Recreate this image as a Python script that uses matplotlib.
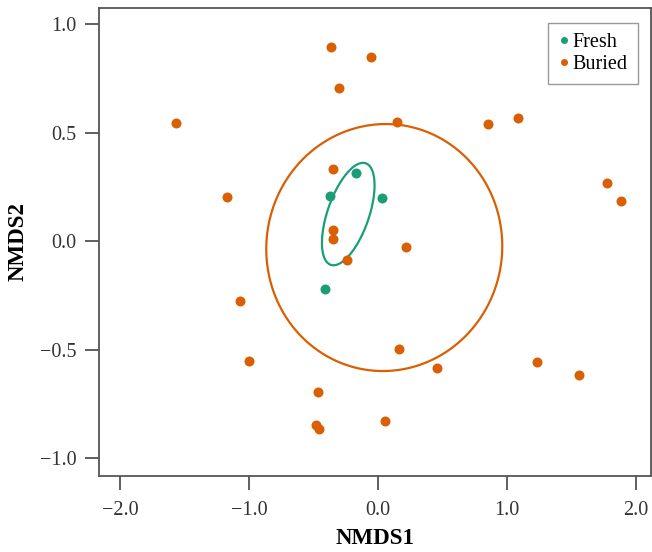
import numpy as np
import matplotlib
matplotlib.use('Agg')
import matplotlib.pyplot as plt

# NMDS scores
fresh_x = [-0.171, -0.372, 0.031, -0.411]
fresh_y = [0.313, 0.207, 0.198, -0.221]

buried_x = [-1.566, -1.171, -0.364, -0.054, -0.302, 0.147, 0.853, 1.085,
            -0.349, -0.349, -0.349, -0.240, 0.217, 1.775, 1.884, -1.070,
            -1.000, -0.465, -0.481, -0.457, 0.163, 0.457, 1.233, 1.558, 0.054]
buried_y = [0.544, 0.203, 0.894, 0.848, 0.705, 0.548, 0.539, 0.567,
            0.332, 0.051, 0.009, -0.088, -0.028, 0.267, 0.184, -0.276,
            -0.553, -0.696, -0.848, -0.866, -0.498, -0.585, -0.558, -0.618, -0.829]

xticks = [-2.0, -1.0, 0.0, 1.0, 2.0]
xtick_labels = ['\u22122.0', '\u22121.0', '0.0', '1.0', '2.0']
yticks = [-1.0, -0.5, 0.0, 0.5, 1.0]
ytick_labels = ['\u22121.0', '\u22120.5', '0.0', '0.5', '1.0']

col_fresh = '#1B9E77'
col_buried = '#D95F02'

plt.rcParams['font.family'] = ['Liberation Serif', 'DejaVu Serif']


def sd_ellipse(x, y, n=361):
    # standard deviation ellipse, like vegan::ordiellipse(kind='sd')
    x = np.asarray(x)
    y = np.asarray(y)
    cov = np.cov(x, y)
    L = np.linalg.cholesky(cov)
    t = np.linspace(0, 2 * np.pi, n)
    circ = np.vstack([np.cos(t), np.sin(t)])
    pts = L @ circ
    return x.mean() + pts[0], y.mean() + pts[1]


fig = plt.figure(figsize=(6.52, 5.52), dpi=100)
ax = fig.add_axes([0.1518, 0.1377, 0.8467, 0.8478])

ax.plot(buried_x, buried_y, 'o', color=col_buried, ms=7.2, mec='none',
        label='Buried', zorder=3)
ax.plot(fresh_x, fresh_y, 'o', color=col_fresh, ms=7.2, mec='none',
        label='Fresh', zorder=3)

ex, ey = sd_ellipse(buried_x, buried_y)
ax.fill(ex, ey, fill=False, edgecolor=col_buried, lw=1.6)
ex, ey = sd_ellipse(fresh_x, fresh_y)
ax.fill(ex, ey, fill=False, edgecolor=col_fresh, lw=1.6)

ax.set_xlim(-2.163, 2.116)
ax.set_ylim(-1.083, 1.074)
ax.set_xticks(xticks)
ax.set_xticklabels(xtick_labels)
ax.set_yticks(yticks)
ax.set_yticklabels(ytick_labels)
ax.tick_params(length=10, width=1.2, color='#444444', labelsize=14.5,
               labelcolor='#333333')
ax.tick_params(axis='x', pad=8)
ax.tick_params(axis='y', pad=6)
for s in ax.spines.values():
    s.set_color('#555555')
    s.set_linewidth(1.3)

ax.set_xlabel('NMDS1', fontsize=16.5, fontweight='bold', labelpad=6)
ax.set_ylabel('NMDS2', fontsize=16.5, fontweight='bold', labelpad=8)

h, l = ax.get_legend_handles_labels()
leg = ax.legend(h[::-1], l[::-1], loc='upper right',
                bbox_to_anchor=(0.976, 0.968), borderaxespad=0,
                fontsize=14.5, markerscale=0.7, handlelength=0.6,
                handletextpad=0.15, labelspacing=0.15, borderpad=0.5,
                fancybox=False, framealpha=1)
leg.get_frame().set_edgecolor('#999999')
leg.get_frame().set_linewidth(1.0)

fig.savefig('out.png', dpi=100)
